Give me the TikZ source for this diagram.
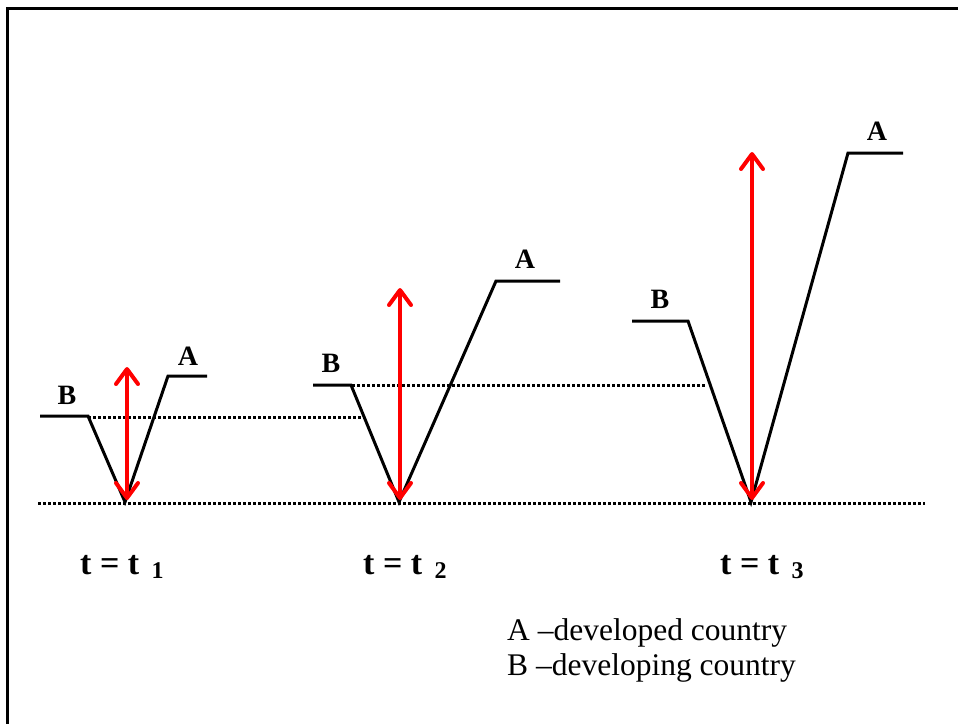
\documentclass[tikz,border=0pt]{standalone}
\usepackage{fontspec}
\setmainfont{Liberation Serif}
\usetikzlibrary{arrows.meta}
\tikzstyle{level} = [line width=3pt, line join=miter, black]
\tikzstyle{gap} = [line width=4pt, red, {Straight Barb[length=15pt,width=22pt,round]}-{Straight Barb[length=15pt,width=22pt,round]}]
\tikzstyle{ref} = [line width=3pt, dash pattern=on 2.5pt off 2.5pt]
\tikzstyle{tag} = [font=\fontsize{28}{30}\selectfont\bfseries, anchor=base, inner sep=0pt]
\tikzstyle{moment} = [font=\fontsize{34}{36}\selectfont\bfseries, anchor=base west, inner sep=0pt]
\tikzstyle{legend} = [font=\fontsize{31.5}{36}\selectfont, anchor=base west, inner sep=0pt]

\begin{document}
\begin{tikzpicture}[x=1pt, y=-1pt]
\useasboundingbox (0,0) rectangle (958,724);

% Frame
\draw [line width=3pt] (958,8) -- (7,8) -- (7,724);

% Reference levels
\draw [ref] (38,503) -- (925,503);
\draw [ref] (88,417) -- (362,417);
\draw [ref] (352,385) -- (705,385);

% t = t1
\coordinate (b1) at (40,416);
\coordinate (b1e) at (88,416);
\coordinate (v1) at (125,502);
\coordinate (a1s) at (168,376);
\coordinate (a1) at (207,376);
\coordinate (up1) at (127,367);
\coordinate (dn1) at (127,500);
\draw [level] (b1) -- (b1e) -- (v1) -- (a1s) -- (a1);
\draw [gap] (dn1) -- (up1);
\node (lb1) [tag] at (67,404) {B};
\node (la1) [tag] at (188,365) {A};

% t = t2
\coordinate (b2) at (313,385);
\coordinate (b2e) at (351,385);
\coordinate (v2) at (399,502);
\coordinate (a2s) at (496,281);
\coordinate (a2) at (560,281);
\coordinate (up2) at (400,288);
\coordinate (dn2) at (400,500);
\draw [level] (b2) -- (b2e) -- (v2) -- (a2s) -- (a2);
\draw [gap] (dn2) -- (up2);
\node (lb2) [tag] at (331,372) {B};
\node (la2) [tag] at (525,268) {A};

% t = t3
\coordinate (b3) at (632,321);
\coordinate (b3e) at (688,321);
\coordinate (v3) at (751,502);
\coordinate (a3s) at (848,153);
\coordinate (a3) at (903,153);
\coordinate (up3) at (752,152);
\coordinate (dn3) at (752,500);
\draw [level] (b3) -- (b3e) -- (v3) -- (a3s) -- (a3);
\draw [gap] (dn3) -- (up3);
\node (lb3) [tag] at (660,308) {B};
\node (la3) [tag] at (877,140) {A};

% Time labels
\node (t1) [moment] at (80,574) {t = t \hspace{4pt}\raisebox{-4pt}{\fontsize{24}{26}\selectfont 1}};
\node (t2) [moment] at (363,574) {t = t \hspace{4pt}\raisebox{-4pt}{\fontsize{24}{26}\selectfont 2}};
\node (t3) [moment] at (720,574) {t = t \hspace{4pt}\raisebox{-4pt}{\fontsize{24}{26}\selectfont 3}};

% Legend
\node (keya) [legend] at (507,640) {A –developed country};
\node (keyb) [legend] at (507,675) {B –developing country};

\end{tikzpicture}
\end{document}
